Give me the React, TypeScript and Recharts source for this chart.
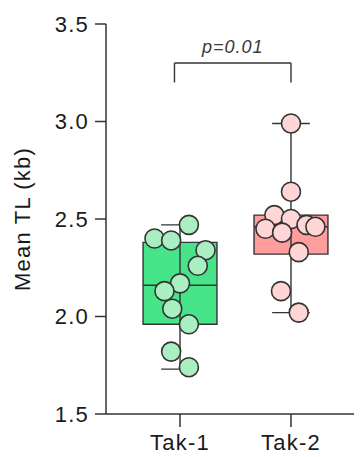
import {
  ComposedChart,
  Scatter,
  XAxis,
  YAxis,
  ReferenceArea,
  ReferenceLine,
} from "recharts";

// groups and their x positions on the numeric axis
const groups = ["Tak-1", "Tak-2"];
const groupPos = [1, 2];

// box stats
const boxMin = [1.73, 2.02];
const boxQ1 = [1.96, 2.32];
const boxMedian = [2.16, 2.46];
const boxQ3 = [2.38, 2.52];
const boxMax = [2.47, 2.99];

// individual points: value + horizontal jitter (in category units)
const tak1Values = [2.47, 2.4, 2.39, 2.34, 2.26, 2.17, 2.13, 2.04, 1.96, 1.82, 1.74];
const tak1Jitter = [0.08, -0.23, -0.08, 0.23, 0.16, 0, -0.14, -0.07, 0.08, -0.08, 0.08];
const tak2Values = [2.99, 2.64, 2.52, 2.5, 2.47, 2.45, 2.46, 2.43, 2.33, 2.13, 2.02];
const tak2Jitter = [0, 0, -0.15, 0, 0.14, -0.23, 0.22, -0.08, 0.07, -0.09, 0.07];

const yTicks = [1.5, 2.0, 2.5, 3.0, 3.5];
const pLabel = "p=0.01";
const bracketTop = 3.3;
const bracketBottom = 3.2;

const boxFill = ["#48e48a", "#ff9c9c"];
const pointFill = ["#a9efc1", "#ffd5d5"];
const ink = "#333";

const tak1Points = tak1Values.map((v, i) => ({ x: groupPos[0] + tak1Jitter[i], y: v }));
const tak2Points = tak2Values.map((v, i) => ({ x: groupPos[1] + tak2Jitter[i], y: v }));

const HALF_BOX = 0.333;
const HALF_CAP = 0.17;

const dot = (fill: string) => (props: any) => (
  <circle cx={props.cx} cy={props.cy} r={9.5} fill={fill} stroke={ink} strokeWidth={1.6} />
);

export default function App() {
  const font = "'Liberation Sans', Arial, sans-serif";
  const textStyle = { fontSize: 22, fill: "#1a1a1a", fontFamily: font, letterSpacing: 1.2 };
  return (
    <div style={{ fontFamily: font }}>
      <ComposedChart
        width={354}
        height={449}
        margin={{ top: 16, right: 0, bottom: 0, left: 0 }}
      >
        <XAxis
          type="number"
          dataKey="x"
          domain={[0.333, 2.64]}
          ticks={groupPos}
          tickFormatter={(v: number) => groups[groupPos.indexOf(v)] ?? ""}
          allowDataOverflow
          stroke={ink}
          strokeWidth={1.5}
          tickSize={13}
          tick={{ ...textStyle, dy: 5 }}
          height={43}
        />
        <YAxis
          type="number"
          dataKey="y"
          domain={[1.5, 3.5]}
          ticks={yTicks}
          tickFormatter={(v: number) => v.toFixed(1)}
          allowDataOverflow
          stroke={ink}
          strokeWidth={1.5}
          tickSize={11}
          tickMargin={6}
          tick={textStyle}
          width={98}
          label={{
            value: "Mean TL (kb)",
            angle: -90,
            position: "insideLeft",
            offset: 0,
            dx: 14,
            style: { ...textStyle, textAnchor: "middle" },
          }}
        />

        {groupPos.map((g, i) => (
          <ReferenceLine
            key={"wh" + i}
            segment={[{ x: g, y: boxMin[i] }, { x: g, y: boxMax[i] }]}
            stroke={ink}
            strokeWidth={1.4}
          />
        ))}
        {groupPos.map((g, i) => (
          <ReferenceArea
            key={"box" + i}
            x1={g - HALF_BOX}
            x2={g + HALF_BOX}
            y1={boxQ1[i]}
            y2={boxQ3[i]}
            fill={boxFill[i]}
            fillOpacity={1}
            stroke={ink}
            strokeWidth={1.4}
          />
        ))}
        {groupPos.map((g, i) => (
          <ReferenceLine
            key={"med" + i}
            segment={[{ x: g - HALF_BOX, y: boxMedian[i] }, { x: g + HALF_BOX, y: boxMedian[i] }]}
            stroke={ink}
            strokeWidth={1.4}
          />
        ))}
        {groupPos.map((g, i) => (
          <ReferenceLine
            key={"capT" + i}
            segment={[{ x: g - HALF_CAP, y: boxMax[i] }, { x: g + HALF_CAP, y: boxMax[i] }]}
            stroke={ink}
            strokeWidth={1.4}
          />
        ))}
        {groupPos.map((g, i) => (
          <ReferenceLine
            key={"capB" + i}
            segment={[{ x: g - HALF_CAP, y: boxMin[i] }, { x: g + HALF_CAP, y: boxMin[i] }]}
            stroke={ink}
            strokeWidth={1.4}
          />
        ))}

        {/* significance bracket */}
        <ReferenceLine
          segment={[{ x: groupPos[0] - 0.05, y: bracketTop }, { x: groupPos[1], y: bracketTop }]}
          stroke={ink}
          strokeWidth={1.4}
          label={{
            value: pLabel,
            position: "top",
            offset: 10,
            style: { fontSize: 18, fontStyle: "italic", fill: "#3a3a3a", fontFamily: font, letterSpacing: 1 },
          }}
        />
        <ReferenceLine
          segment={[{ x: groupPos[0] - 0.05, y: bracketTop }, { x: groupPos[0] - 0.05, y: bracketBottom }]}
          stroke={ink}
          strokeWidth={1.4}
        />
        <ReferenceLine
          segment={[{ x: groupPos[1], y: bracketTop }, { x: groupPos[1], y: bracketBottom }]}
          stroke={ink}
          strokeWidth={1.4}
        />

        <Scatter data={tak1Points} shape={dot(pointFill[0])} isAnimationActive={false} />
        <Scatter data={tak2Points} shape={dot(pointFill[1])} isAnimationActive={false} />
      </ComposedChart>
    </div>
  );
}
